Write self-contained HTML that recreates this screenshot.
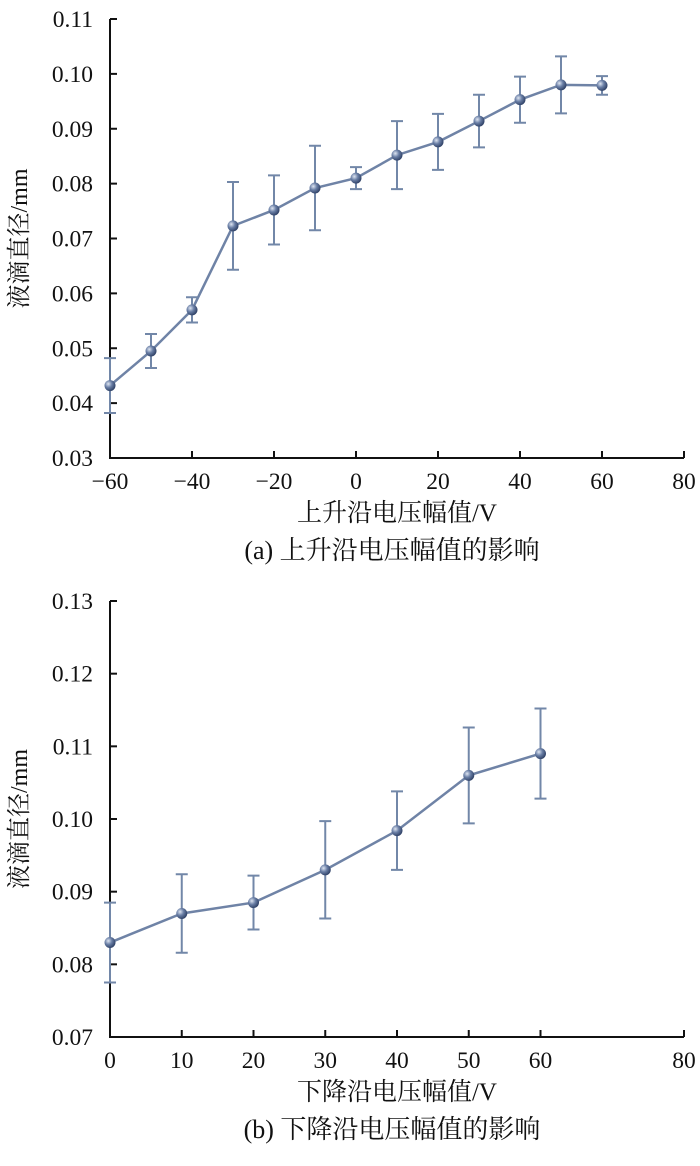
<!DOCTYPE html>
<html><head><meta charset="utf-8"><style>
body{margin:0;background:#fff;width:700px;height:1161px;overflow:hidden}
svg text{font-family:"Liberation Serif","Noto Serif CJK SC",serif;fill:#111}
</style></head><body>
<svg width="700" height="1161">
<defs><radialGradient id="ball" cx="35%" cy="35%" r="65%"><stop offset="0" stop-color="#dfe6f2"/><stop offset="0.5" stop-color="#6a7fa6"/><stop offset="1" stop-color="#34466b"/></radialGradient></defs>
<g id="ca"></g>
<g id="cb"></g>
</svg>
<script>
const xA=[-60,-50,-40,-30,-20,-10,0,10,20,30,40,50,60];
const yA=[0.0432,0.0495,0.057,0.0723,0.0752,0.0792,0.081,0.0852,0.0876,0.0914,0.0953,0.098,0.0979];
const eA=[0.005,0.0031,0.0023,0.008,0.0063,0.0077,0.002,0.0062,0.0051,0.0048,0.0042,0.0052,0.0017];
const xTicksA=[-60,-40,-20,0,20,40,60,80];
const yTicksA=[0.03,0.04,0.05,0.06,0.07,0.08,0.09,0.10,0.11];
const xB=[0,10,20,30,40,50,60];
const yB=[0.083,0.087,0.0885,0.093,0.0984,0.106,0.109];
const eB=[0.0055,0.0054,0.0037,0.0067,0.0054,0.0066,0.0062];
const xTicksB=[0,10,20,30,40,50,60,80];
const yTicksB=[0.07,0.08,0.09,0.10,0.11,0.12,0.13];
const NS="http://www.w3.org/2000/svg";
function mk(p,t,a,txt){const e=document.createElementNS(NS,t);for(const k in a)e.setAttribute(k,a[k]);if(txt!=null)e.textContent=txt;p.appendChild(e);return e;}
function draw(g,cfg){
 const X=v=>110+(v-cfg.x0)/(cfg.x1-cfg.x0)*574;
 const Y=v=>cfg.yb-(v-cfg.y0)/(cfg.y1-cfg.y0)*(cfg.yb-cfg.yt);
 let ax=mk(g,'path',{d:`M110,${cfg.yt}V${cfg.yb}H684`,stroke:'#111','stroke-width':2,fill:'none'});
 
 cfg.yt_.forEach(v=>{const y=Y(v);
  let t=mk(g,'line',{x1:110,x2:117,y1:y,y2:y,stroke:'#111','stroke-width':2});
  
  let l=mk(g,'text',{x:93,y:y+8,'text-anchor':'end','font-size':23.5},v.toFixed(2));
  });
 cfg.xt_.forEach(v=>{const x=X(v);
  let t=mk(g,'line',{x1:x,x2:x,y1:cfg.yb,y2:cfg.yb-7,stroke:'#111','stroke-width':2});
  
  let l=mk(g,'text',{x:x,y:cfg.yb+31,'text-anchor':'middle','font-size':23.5},v<0?'\u2212'+(-v):String(v));
  });
 let pl=mk(g,'polyline',{points:cfg.xs.map((v,i)=>X(v)+','+Y(cfg.ys[i])).join(' '),fill:'none',stroke:'#6f83a6','stroke-width':2.5});
 
 cfg.xs.forEach((v,i)=>{const x=X(v),y1=Y(cfg.ys[i]+cfg.es[i]),y2=Y(cfg.ys[i]-cfg.es[i]);
  let e=mk(g,'path',{d:`M${x},${y1}V${y2}M${x-6},${y1}H${x+6}M${x-6},${y2}H${x+6}`,stroke:'#7287a8','stroke-width':2,fill:'none'});
  });
 cfg.xs.forEach((v,i)=>{
  let c=mk(g,'circle',{cx:X(v),cy:Y(cfg.ys[i]),r:5.5,fill:'url(#ball)'});
  });
 let yl=mk(g,'text',{transform:`translate(27,${(cfg.yt+cfg.yb)/2}) rotate(-90)`,'text-anchor':'middle','font-size':24},'液滴直径/mm');
 
 let xl=mk(g,'text',{x:397,y:cfg.yb+63,'text-anchor':'middle','font-size':25},cfg.xlab);
 
 let cp=mk(g,'text',{x:392,y:cfg.yb+101,'text-anchor':'middle','font-size':26},cfg.cap);
 
}
draw(document.getElementById('ca'),{x0:-60,x1:80,y0:0.03,y1:0.11,yt:19,yb:458,xs:xA,ys:yA,es:eA,xt_:xTicksA,yt_:yTicksA,xlab:'上升沿电压幅值/V',cap:'(a)  上升沿电压幅值的影响'});
draw(document.getElementById('cb'),{x0:0,x1:80,y0:0.07,y1:0.13,yt:601,yb:1037,xs:xB,ys:yB,es:eB,xt_:xTicksB,yt_:yTicksB,xlab:'下降沿电压幅值/V',cap:'(b)  下降沿电压幅值的影响'});
</script>
</body></html>
